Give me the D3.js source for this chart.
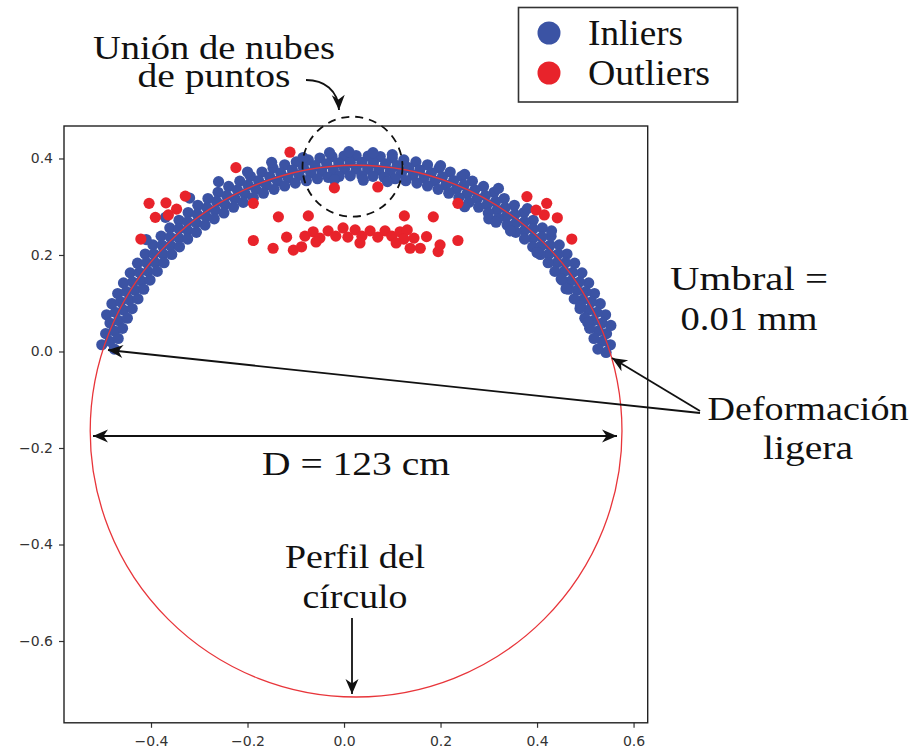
<!DOCTYPE html>
<html>
<head>
<meta charset="utf-8">
<script src="https://cdn.jsdelivr.net/npm/d3@7"></script>
<style>
  html, body { margin: 0; padding: 0; background: #fff; }
  svg { display: block; }
</style>
</head>
<body>
<svg id="chart" width="911" height="753"></svg>
<script>
// ---- data -------------------------------------------------------------
const xTicks = [-0.4, -0.2, 0.0, 0.2, 0.4, 0.6];
const yTicks = [-0.6, -0.4, -0.2, 0.0, 0.2, 0.4];

// fitted circle profile (centre and radius, in metres)
const fittedCenter = [0.025, -0.165];
const fittedRadius = 0.551;

// points accepted by the fit, outer edge of the band to inner edge
const inliersOuter = [
  [0.553,0.054],[0.542,0.076],[0.531,0.099],[0.519,0.120],[0.507,0.142],[0.493,0.163],[0.478,0.183],[0.462,0.202],
  [0.446,0.221],[0.429,0.239],[0.411,0.256],[0.392,0.272],[0.373,0.288],[0.353,0.303],[0.332,0.317],[0.311,0.330],
  [0.289,0.342],[0.266,0.353],[0.244,0.363],[0.220,0.372],[0.197,0.380],[0.173,0.387],[0.149,0.393],[0.124,0.397],
  [0.100,0.401],[0.075,0.404],[0.050,0.405],[0.025,0.406],[0.000,0.405],[-0.025,0.404],[-0.050,0.401],[-0.074,0.397],
  [-0.099,0.393],[-0.123,0.387],[-0.147,0.380],[-0.170,0.372],[-0.194,0.363],[-0.216,0.353],[-0.239,0.342],[-0.261,0.330],
  [-0.282,0.317],[-0.303,0.303],[-0.323,0.288],[-0.342,0.272],[-0.361,0.256],[-0.379,0.239],[-0.396,0.221],[-0.412,0.202],
  [-0.428,0.183],[-0.443,0.163],[-0.457,0.142],[-0.469,0.120],[-0.481,0.099],[-0.492,0.076]
];
const inliersUpper = [
  [0.552,0.014],[0.544,0.037],[0.535,0.059],[0.524,0.081],[0.513,0.103],[0.501,0.124],[0.488,0.144],[0.474,0.164],
  [0.459,0.184],[0.444,0.202],[0.427,0.220],[0.410,0.237],[0.392,0.254],[0.374,0.269],[0.354,0.284],[0.334,0.298],
  [0.314,0.311],[0.293,0.323],[0.271,0.335],[0.249,0.345],[0.227,0.354],[0.204,0.362],[0.181,0.370],[0.157,0.376],
  [0.134,0.381],[0.110,0.385],[0.086,0.389],[0.061,0.391],[0.037,0.392],[0.013,0.392],[-0.011,0.391],[-0.036,0.389],
  [-0.060,0.385],[-0.084,0.381],[-0.107,0.376],[-0.131,0.370],[-0.154,0.362],[-0.177,0.354],[-0.199,0.345],[-0.221,0.335],
  [-0.243,0.323],[-0.264,0.311],[-0.284,0.298],[-0.304,0.284],[-0.324,0.269],[-0.342,0.254],[-0.360,0.237],[-0.377,0.220],
  [-0.394,0.202],[-0.409,0.184],[-0.424,0.164],[-0.438,0.144],[-0.451,0.124],[-0.463,0.103],[-0.474,0.081],[-0.485,0.059],
  [-0.494,0.037],[-0.502,0.014]
];
const inliersLower = [
  [0.543,-0.002],[0.535,0.021],[0.527,0.043],[0.517,0.064],[0.507,0.086],[0.495,0.107],[0.483,0.127],[0.470,0.146],
  [0.456,0.166],[0.441,0.184],[0.425,0.202],[0.409,0.219],[0.392,0.235],[0.374,0.251],[0.356,0.266],[0.336,0.280],
  [0.317,0.293],[0.297,0.305],[0.276,0.317],[0.255,0.327],[0.233,0.337],[0.211,0.345],[0.188,0.353],[0.166,0.360],
  [0.143,0.365],[0.119,0.370],[0.096,0.373],[0.072,0.376],[0.049,0.378],[0.025,0.378],[0.001,0.378],[-0.022,0.376],
  [-0.046,0.373],[-0.069,0.370],[-0.093,0.365],[-0.116,0.360],[-0.138,0.353],[-0.161,0.345],[-0.183,0.337],[-0.205,0.327],
  [-0.226,0.317],[-0.247,0.305],[-0.267,0.293],[-0.286,0.280],[-0.306,0.266],[-0.324,0.251],[-0.342,0.235],[-0.359,0.219],
  [-0.375,0.202],[-0.391,0.184],[-0.406,0.166],[-0.420,0.146],[-0.433,0.127],[-0.445,0.107],[-0.457,0.086],[-0.467,0.064],
  [-0.477,0.043],[-0.485,0.021]
];
const inliersInner = [
  [0.526,0.005],[0.518,0.027],[0.509,0.048],[0.499,0.069],[0.489,0.089],[0.477,0.109],[0.465,0.129],[0.452,0.148],
  [0.437,0.166],[0.423,0.184],[0.407,0.201],[0.391,0.217],[0.374,0.233],[0.356,0.247],[0.338,0.262],[0.319,0.275],
  [0.299,0.287],[0.279,0.299],[0.259,0.309],[0.238,0.319],[0.217,0.328],[0.195,0.336],[0.173,0.343],[0.151,0.349],
  [0.128,0.354],[0.106,0.358],[0.083,0.361],[0.060,0.363],[0.037,0.364],[0.013,0.364],[-0.010,0.363],[-0.033,0.361],
  [-0.055,0.358],[-0.078,0.354],[-0.101,0.349],[-0.123,0.343],[-0.145,0.336],[-0.167,0.328],[-0.188,0.319],[-0.209,0.309],
  [-0.229,0.299],[-0.249,0.287],[-0.269,0.275],[-0.288,0.262],[-0.306,0.247],[-0.324,0.233],[-0.341,0.217],[-0.357,0.201],
  [-0.373,0.184],[-0.387,0.166],[-0.402,0.148],[-0.415,0.129],[-0.427,0.109],[-0.439,0.089],[-0.449,0.069],[-0.459,0.048],
  [-0.468,0.027],[-0.476,0.005]
];
// stray inliers along the edges of the band
const inliersStray = [
  [-0.030,0.412],[0.010,0.414],[0.060,0.412],[0.100,0.408],[-0.085,0.402],[-0.150,0.392],[-0.200,0.372],[0.200,0.385],
  [0.250,0.367],[0.320,0.338],[0.380,0.296],[0.430,0.250],[-0.260,0.352],[-0.320,0.318],[-0.370,0.278],[-0.410,0.232],
  [0.400,0.205],[0.450,0.150],[0.490,0.095],[0.300,0.275],[0.250,0.300],[0.315,0.268],[0.345,0.250],[0.460,0.130],
  [0.505,0.060],[-0.020,0.356],[0.040,0.355],[0.090,0.352]
];

// points rejected by the fit
const outliers = [
  [-0.112,0.413],[-0.224,0.381],[-0.404,0.307],[-0.369,0.308],[-0.329,0.322],[-0.391,0.278],[-0.364,0.283],[-0.347,0.295],
  [-0.421,0.233],[-0.188,0.307],[-0.136,0.279],[-0.074,0.281],[-0.020,0.339],[0.070,0.341],[0.236,0.307],[0.125,0.281],
  [0.185,0.279],[0.236,0.230],[0.379,0.321],[0.420,0.307],[0.398,0.293],[0.415,0.283],[0.442,0.277],[0.472,0.233],
  [-0.188,0.230],[-0.147,0.214],[-0.119,0.237],[-0.105,0.210],[-0.088,0.217],
  [-0.081,0.239],[-0.064,0.248],[-0.050,0.235],[-0.033,0.250],[-0.017,0.239],[-0.002,0.256],[0.008,0.237],[0.023,0.252],
  [0.037,0.239],[0.054,0.250],[0.070,0.237],[0.085,0.250],[0.099,0.239],[0.116,0.248],[0.131,0.252],[0.124,0.233],
  [0.145,0.235],[0.158,0.214],[0.137,0.214],[0.171,0.238],[0.195,0.207],[0.199,0.221],[-0.058,0.227],[0.033,0.225],
  [0.108,0.225]
];

const legendLabels = ["Inliers", "Outliers"];

const inliers = [].concat(inliersOuter, inliersUpper, inliersLower, inliersInner, inliersStray);

// ---- layout -----------------------------------------------------------
const svg = d3.select("#chart");
const plot = { left: 64, right: 647.7, top: 126, bottom: 722.8 };

const x = d3.scaleLinear().domain([-0.5803, 0.6293]).range([plot.left, plot.right]);
const y = d3.scaleLinear().domain([-0.7695, 0.4673]).range([plot.bottom, plot.top]);

const blue = "#3b53a4";
const red = "#e8232b";
const ink = "#111";
const serif = "'Liberation Serif', 'DejaVu Serif', 'Noto Serif', 'Times New Roman', serif";

// arrowheads
const defs = svg.append("defs");
defs.append("marker")
  .attr("id", "stealth")
  .attr("viewBox", "-16 -8 18 16")
  .attr("refX", 0).attr("refY", 0)
  .attr("markerWidth", 18).attr("markerHeight", 16)
  .attr("markerUnits", "userSpaceOnUse")
  .attr("orient", "auto-start-reverse")
  .append("path")
  .attr("d", "M0,0 L-15,-6.5 L-10.5,0 L-15,6.5 Z")
  .attr("fill", ink);

// ---- axes -------------------------------------------------------------
const fmt = d3.format(".1f");
const xAxis = svg.append("g")
  .attr("transform", `translate(0,${plot.bottom})`)
  .call(d3.axisBottom(x).tickValues(xTicks).tickSize(5).tickPadding(8).tickFormat(fmt));
const yAxis = svg.append("g")
  .attr("transform", `translate(${plot.left},0)`)
  .call(d3.axisLeft(y).tickValues(yTicks).tickSize(5).tickPadding(6).tickFormat(fmt));

[xAxis, yAxis].forEach(g => {
  g.select(".domain").remove();
  g.selectAll(".tick line").attr("stroke", "#333").attr("stroke-width", 1.2);
  g.selectAll(".tick text")
    .attr("fill", "#333")
    .style("font-family", "'DejaVu Sans', sans-serif")
    .style("font-size", "14px");
});

// ---- marks ------------------------------------------------------------
svg.append("g")
  .selectAll("circle")
  .data(inliers)
  .join("circle")
  .attr("cx", d => x(d[0]))
  .attr("cy", d => y(d[1]))
  .attr("r", 5.6)
  .attr("fill", blue);

svg.append("g")
  .selectAll("circle")
  .data(outliers)
  .join("circle")
  .attr("cx", d => x(d[0]))
  .attr("cy", d => y(d[1]))
  .attr("r", 5.6)
  .attr("fill", red);

// fitted profile
svg.append("ellipse")
  .attr("cx", x(fittedCenter[0]))
  .attr("cy", y(fittedCenter[1]))
  .attr("rx", x(fittedCenter[0] + fittedRadius) - x(fittedCenter[0]))
  .attr("ry", y(fittedCenter[1]) - y(fittedCenter[1] + fittedRadius))
  .attr("fill", "none")
  .attr("stroke", "#e8353a")
  .attr("stroke-width", 1.3);

// frame
svg.append("rect")
  .attr("x", plot.left).attr("y", plot.top)
  .attr("width", plot.right - plot.left).attr("height", plot.bottom - plot.top)
  .attr("fill", "none").attr("stroke", "#222").attr("stroke-width", 1.4);

// ---- annotations ------------------------------------------------------
function label(lines, cx, baselines, size, widths) {
  lines.forEach((t, i) => {
    svg.append("text")
      .attr("x", cx).attr("y", baselines[i])
      .attr("text-anchor", "middle")
      .attr("textLength", widths[i]).attr("lengthAdjust", "spacingAndGlyphs")
      .style("font-family", serif).style("font-size", size + "px")
      .attr("fill", ink)
      .text(t);
  });
}

// merged point clouds
svg.append("circle")
  .attr("cx", 352.5).attr("cy", 166.7).attr("r", 50)
  .attr("fill", "none").attr("stroke", ink).attr("stroke-width", 1.8)
  .attr("stroke-dasharray", "8,6");
label(["Unión de nubes", "de puntos"], 214, [59, 87], 33, [242, 153]);
svg.append("path")
  .attr("d", "M306,80 C324,80 338,90 339,110")
  .attr("fill", "none").attr("stroke", ink).attr("stroke-width", 1.8)
  .attr("marker-end", "url(#stealth)");

// threshold
label(["Umbral =", "0.01 mm"], 749, [290, 330], 33, [158, 137]);

// slight deformation at both ends
label(["Deformación", "ligera"], 808, [420, 459], 33, [201, 90]);
svg.append("path")
  .attr("d", "M700,413 L108,350")
  .attr("fill", "none").attr("stroke", ink).attr("stroke-width", 1.8)
  .attr("marker-end", "url(#stealth)");
svg.append("path")
  .attr("d", "M700,411 L612,358")
  .attr("fill", "none").attr("stroke", ink).attr("stroke-width", 1.8)
  .attr("marker-end", "url(#stealth)");

// diameter
svg.append("path")
  .attr("d", "M93,436 L617,436")
  .attr("fill", "none").attr("stroke", ink).attr("stroke-width", 2)
  .attr("marker-start", "url(#stealth)")
  .attr("marker-end", "url(#stealth)");
label(["D = 123 cm"], 356, [475], 33, [188]);

// circle profile
label(["Perfil del", "círculo"], 355, [568, 608], 33, [140, 105]);
svg.append("path")
  .attr("d", "M352,618 L352,694")
  .attr("fill", "none").attr("stroke", ink).attr("stroke-width", 1.8)
  .attr("marker-end", "url(#stealth)");

// ---- legend -----------------------------------------------------------
const legend = svg.append("g");
legend.append("rect")
  .attr("x", 518.5).attr("y", 7.5).attr("width", 219).attr("height", 94.5)
  .attr("fill", "#fff").attr("stroke", "#333").attr("stroke-width", 1.6);
const legendColors = [blue, red];
const legendWidths = [95, 122];
legendLabels.forEach((name, i) => {
  const cy = 33 + i * 40;
  legend.append("circle").attr("cx", 549).attr("cy", cy).attr("r", 11.5).attr("fill", legendColors[i]);
  legend.append("text")
    .attr("x", 588).attr("y", cy + 12)
    .attr("textLength", legendWidths[i]).attr("lengthAdjust", "spacingAndGlyphs")
    .style("font-family", serif).style("font-size", "35px")
    .attr("fill", ink)
    .text(name);
});
</script>
</body>
</html>
